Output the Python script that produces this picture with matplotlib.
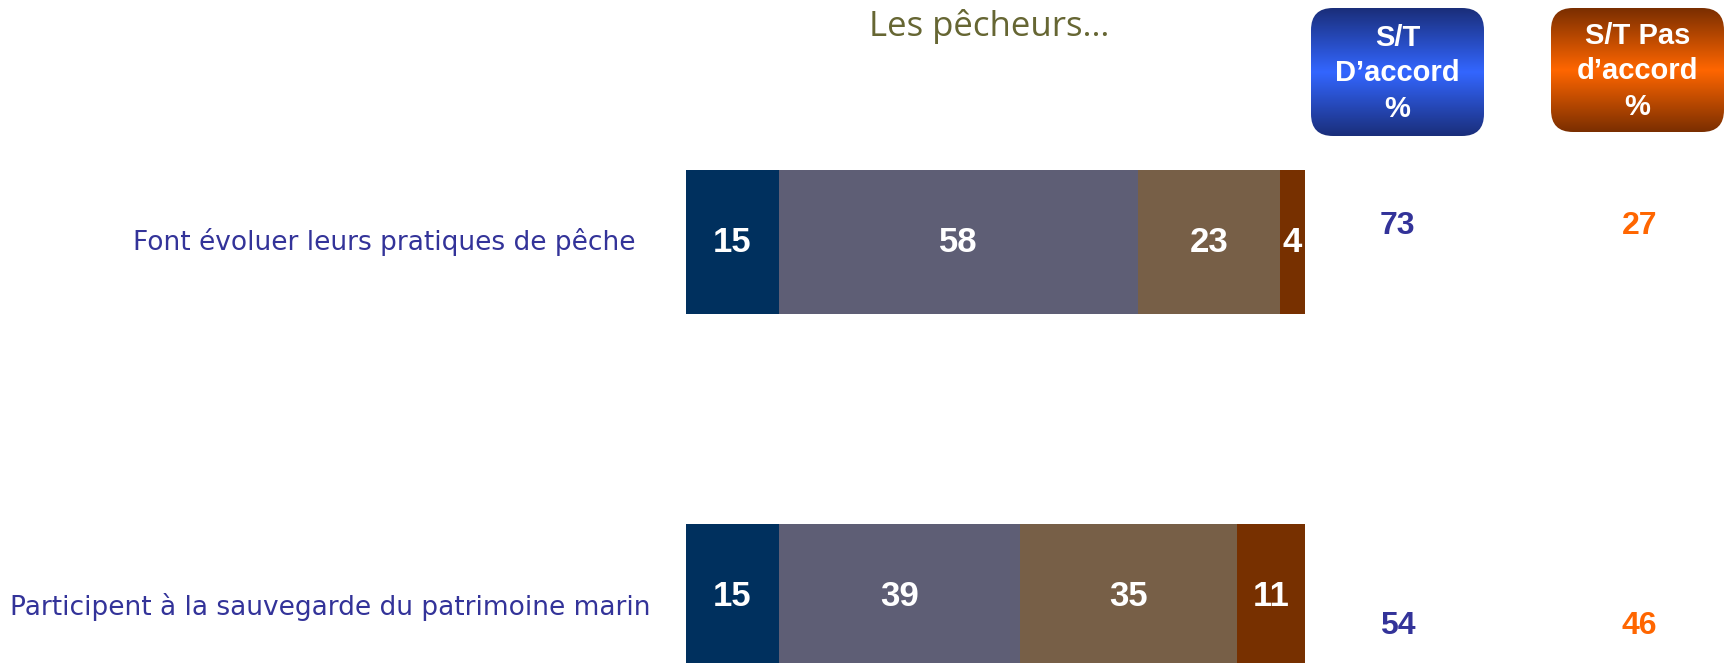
import numpy as np
import matplotlib.pyplot as plt
from matplotlib.patches import FancyBboxPatch
from matplotlib.colors import LinearSegmentedColormap

# data
categories = ['Font évoluer leurs pratiques de pêche',
              'Participent à la sauvegarde du patrimoine marin']
tout_a_fait = [15, 15]
plutot = [58, 39]
plutot_pas = [23, 35]
pas_du_tout = [4, 11]
st_accord = [73, 54]
st_pas_accord = [27, 46]

seg_colors = ['#00305e', '#5e5e75', '#775f47', '#773000']
label_color = '#333399'
orange = '#ff6600'


def gradient_box(fig, rect, dark, bright, lines):
    bax = fig.add_axes(rect)
    bax.set_xlim(0, 1)
    bax.set_ylim(0, 1)
    bax.axis('off')
    cmap = LinearSegmentedColormap.from_list('g', [dark, bright, dark])
    grad = np.linspace(0, 1, 256).reshape(-1, 1)
    im = bax.imshow(grad, cmap=cmap, extent=[0, 1, 0, 1], aspect='auto')
    w_px = rect[2] * fig.get_figwidth() * fig.dpi
    h_px = rect[3] * fig.get_figheight() * fig.dpi
    r = 22
    # rounding measured relative to width, mutation_aspect fixes the y radius
    patch = FancyBboxPatch((0, 0), 1, 1,
                           boxstyle='round,pad=0,rounding_size=%f' % (r / w_px),
                           mutation_aspect=w_px / h_px,
                           transform=bax.transAxes, facecolor='none', edgecolor='none')
    bax.add_patch(patch)
    im.set_clip_path(patch)
    bax.text(0.5, 0.49, lines, ha='center', va='center', color='white',
             fontsize=21, fontweight='bold', family='Liberation Sans',
             linespacing=1.34, transform=bax.transAxes)


def main():
    W, H = 1733, 663
    fig = plt.figure(figsize=(W / 100, H / 100), dpi=100)

    # bar axes: x from 686 to 1305 px, full height
    x0, x1 = 686, 1305
    ax = fig.add_axes([x0 / W, 0, (x1 - x0) / W, 1])
    gap = 354.0
    top = -242.0 / gap
    ax.set_ylim(top + H / gap, top)
    ax.set_xlim(0, 100)
    ax.axis('off')

    y = np.arange(len(categories))
    series = [tout_a_fait, plutot, plutot_pas, pas_du_tout]
    left = np.zeros(len(categories))
    for vals, col in zip(series, seg_colors):
        vals = np.array(vals)
        ax.barh(y, vals, left=left, height=144 / gap, color=col, linewidth=0)
        for yi, l, v in zip(y, left, vals):
            ax.text(l + v / 2, yi, str(v), ha='center', va='center', color='white',
                    fontsize=25, fontweight='bold', family='Liberation Sans')
        left += vals

    # category labels
    lab_x = [-8.1, -5.8]
    lab_dy = [0.0, 0.03]
    for yi, cat, lx, dy in zip(y, categories, lab_x, lab_dy):
        ax.text(lx, yi + dy, cat, ha='right', va='center', color=label_color,
                fontsize=19, family='DejaVu Sans', clip_on=False)

    # summary columns
    val_dy = [-0.045, 0.085]
    for yi, a, b, dy in zip(y, st_accord, st_pas_accord, val_dy):
        ax.text(115, yi + dy, str(a), ha='center', va='center', color=label_color,
                fontsize=23, fontweight='bold', family='Liberation Sans', clip_on=False)
        ax.text(154, yi + dy, str(b), ha='center', va='center', color=orange,
                fontsize=23, fontweight='bold', family='Liberation Sans', clip_on=False)

    fig.text(989 / W, 1 - 27 / H, 'Les pêcheurs…', ha='center', va='center',
             color='#666633', fontsize=25, family='Open Sans')

    gradient_box(fig, [1311 / W, 1 - 136 / H, 173 / W, 128 / H], '#1a2e7a', '#3366ff',
                 'S/T\nD’accord\n%')
    gradient_box(fig, [1551 / W, 1 - 132 / H, 173 / W, 124 / H], '#7a2e00', '#ff6600',
                 'S/T Pas\nd’accord\n%')

    fig.savefig('out.png', dpi=100, facecolor='white')


if __name__ == '__main__':
    main()
